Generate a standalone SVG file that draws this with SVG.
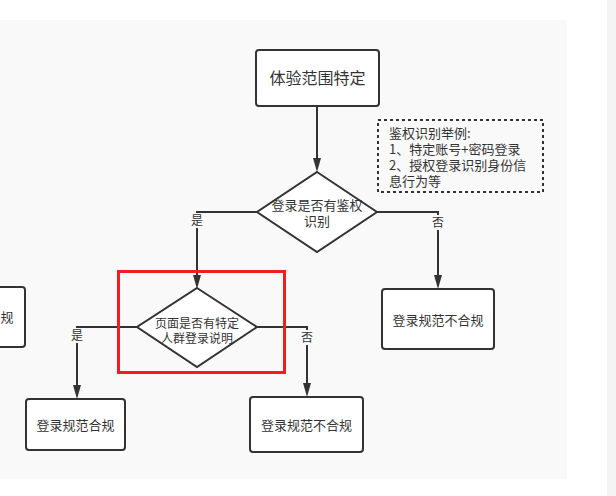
<svg xmlns="http://www.w3.org/2000/svg" width="616" height="496" viewBox="0 0 616 496">
<style>
text{font-family:"Noto Sans CJK SC","Noto Sans",sans-serif;fill:#333;text-anchor:middle}
.box{fill:#fff;stroke:#333;stroke-width:2}
.dia{fill:#fff;stroke:#333;stroke-width:2}
.ln{fill:none;stroke:#333;stroke-width:2}
.lbl{font-size:12px}
</style>
<defs>
<marker id="arr" markerWidth="8" markerHeight="12" refX="4" refY="12" orient="auto-start-reverse" markerUnits="userSpaceOnUse" viewBox="0 0 8 12">
<path d="M0,0 L8,0 L4,12 Z" fill="#333" transform="rotate(0)"/>
</marker>
</defs>
<rect x="0" y="0" width="616" height="496" fill="#fff"/>
<rect x="0" y="20" width="567" height="459" fill="#f9f9f9"/>
<rect x="607" y="0" width="9" height="496" fill="#f4f4f4"/>

<g id="connectors">
<line class="ln" x1="317" y1="106" x2="317" y2="160"/>
<path d="M313,158 L321,158 L317,172 Z" fill="#333"/>
<polyline class="ln" points="377,212 438,212 438,276"/>
<path d="M434,275 L442,275 L438,289 Z" fill="#333"/>
<polyline class="ln" points="257,212 197,212 197,276"/>
<path d="M193,275 L201,275 L197,289 Z" fill="#333"/>
<polyline class="ln" points="137,327 77,327 77,386"/>
<path d="M73,385 L81,385 L77,399 Z" fill="#333"/>
<polyline class="ln" points="257,327 307,327 307,384"/>
<path d="M303,383 L311,383 L307,397 Z" fill="#333"/>
<rect x="430" y="215" width="16" height="15" fill="#f9f9f9"/>
<text class="lbl" x="438" y="227">否</text>
<rect x="189" y="213" width="16" height="15" fill="#f9f9f9"/>
<text class="lbl" x="197" y="225">是</text>
<rect x="69" y="328" width="16" height="15" fill="#f9f9f9"/>
<text class="lbl" x="77" y="340">是</text>
<rect x="299" y="330" width="16" height="15" fill="#f9f9f9"/>
<text class="lbl" x="307" y="342">否</text>
</g>

<g id="start">
<rect class="box" x="256" y="50" width="123" height="56" rx="3"/>
<text x="317.5" y="84" font-size="16">体验范围特定</text>
</g>

<g id="note">
<rect x="378" y="120" width="165" height="72" fill="none" stroke="#333" stroke-width="2" stroke-dasharray="3 3"/>
<text x="389" y="138" font-size="13" style="text-anchor:start">鉴权识别举例:</text>
<text x="389" y="154" font-size="13" style="text-anchor:start">1、特定账号+密码登录</text>
<text x="389" y="170" font-size="13" style="text-anchor:start">2、授权登录识别身份信</text>
<text x="389" y="186" font-size="13" style="text-anchor:start">息行为等</text>
</g>

<g id="decision1">
<polygon class="dia" points="317,172 377,212 317,252 257,212"/>
<text x="317" y="210" font-size="13">登录是否有鉴权</text>
<text x="317" y="226" font-size="13">识别</text>
</g>

<g id="noncompliant1">
<rect class="box" x="382" y="289" width="112" height="60" rx="3"/>
<text x="438" y="325" font-size="13">登录规范不合规</text>
</g>

<g id="leftcut">
<rect class="box" x="-90" y="287" width="115" height="60" rx="3"/>
<text x="-32" y="322" font-size="13">登录规范不合规</text>
</g>

<g id="highlight">
<rect x="118.5" y="271.5" width="166" height="101" fill="none" stroke="#f41d1d" stroke-width="3"/>
</g>

<g id="decision2">
<polygon class="dia" points="197,288 257,327 197,367 137,327"/>
<text x="197" y="328" font-size="12">页面是否有特定</text>
<text x="197" y="343" font-size="12">人群登录说明</text>
</g>

<g id="compliant">
<rect class="box" x="26" y="399" width="99" height="51" rx="3"/>
<text x="75.5" y="430" font-size="13">登录规范合规</text>
</g>

<g id="noncompliant2">
<rect class="box" x="250" y="397" width="113" height="55" rx="3"/>
<text x="306.5" y="430" font-size="13">登录规范不合规</text>
</g>
</svg>
